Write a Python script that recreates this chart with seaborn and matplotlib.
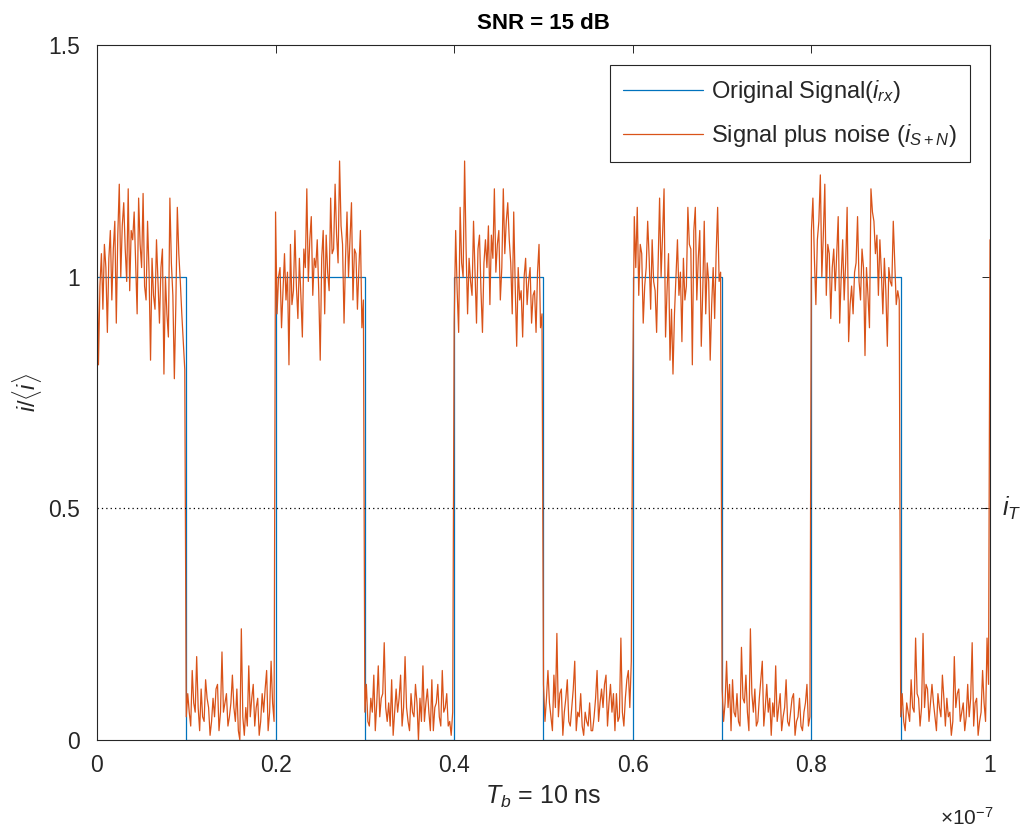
import numpy as np
import pandas as pd
import matplotlib
matplotlib.use("Agg")
import matplotlib.pyplot as plt
from matplotlib.ticker import FixedLocator, FuncFormatter
import seaborn as sns

# ---- data -------------------------------------------------------------
Tb = 10e-9                      # bit period [s]
bits = [1, 0, 1, 0, 1, 0, 1, 0, 1, 0]

# received current i/<i>, 60 samples per bit
rx_bit1 = [1.09, 0.81, 0.98, 1.05, 0.93, 1.07, 1.02, 0.88, 1.04, 1.10,
           0.95, 1.06, 1.12, 0.90, 1.09, 1.20, 1.00, 1.11, 1.16, 1.06,
           0.99, 1.19, 0.97, 1.10, 1.08, 1.14, 1.03, 0.92, 1.17, 1.07,
           1.02, 1.18, 0.98, 0.95, 1.12, 1.01, 0.82, 1.04, 0.96, 0.93,
           1.08, 0.99, 0.90, 1.02, 1.06, 0.79, 1.00, 0.92, 0.87, 1.17,
           1.03, 0.96, 0.78, 0.94, 1.15, 1.05, 0.99, 0.92, 0.86, 0.80]
rx_bit2 = [0.05, 0.10, 0.06, 0.03, 0.15, 0.08, 0.06, 0.18, 0.07, 0.02,
           0.11, 0.05, 0.04, 0.13, 0.09, 0.07, 0.01, 0.04, 0.09, 0.05,
           0.11, 0.12, 0.02, 0.06, 0.19, 0.06, 0.08, 0.10, 0.03, 0.05,
           0.08, 0.14, 0.07, 0.04, 0.11, 0.02, 0.00, 0.24, 0.05, 0.01,
           0.07, 0.03, 0.16, 0.05, 0.09, 0.12, 0.03, 0.07, 0.09, 0.01,
           0.04, 0.10, 0.06, 0.11, 0.15, 0.02, 0.06, 0.17, 0.08, 0.04]
rx_bit3 = [1.14, 0.92, 1.00, 1.02, 0.89, 0.97, 1.05, 0.95, 1.01, 0.81,
           1.07, 0.94, 0.97, 1.10, 0.98, 0.91, 1.04, 0.96, 0.87, 1.06,
           1.02, 1.19, 0.99, 1.08, 1.13, 0.96, 1.04, 1.02, 1.08, 0.97,
           0.82, 1.04, 1.10, 0.92, 1.09, 1.01, 0.97, 1.17, 1.05, 1.06,
           1.20, 1.09, 1.03, 1.25, 1.11, 1.07, 0.90, 1.04, 1.14, 1.00,
           1.08, 1.16, 0.95, 1.06, 1.05, 0.93, 1.02, 1.10, 0.89, 0.95]
rx_bit4 = [0.06, 0.12, 0.04, 0.03, 0.09, 0.06, 0.14, 0.02, 0.08, 0.16,
           0.05, 0.09, 0.10, 0.21, 0.07, 0.04, 0.08, 0.03, 0.13, 0.01,
           0.06, 0.11, 0.06, 0.09, 0.14, 0.03, 0.07, 0.18, 0.07, 0.04,
           0.02, 0.10, 0.06, 0.05, 0.12, 0.08, 0.00, 0.09, 0.04, 0.16,
           0.04, 0.08, 0.11, 0.06, 0.02, 0.13, 0.02, 0.07, 0.08, 0.12,
           0.05, 0.03, 0.15, 0.06, 0.07, 0.10, 0.03, 0.04, 0.01, 0.06]
rx_bit5 = [0.90, 1.10, 0.97, 0.88, 1.15, 1.03, 1.00, 1.25, 1.06, 0.92,
           1.04, 0.99, 0.96, 1.12, 1.01, 0.90, 1.06, 1.09, 0.97, 0.88,
           1.03, 1.08, 1.02, 1.11, 0.94, 1.09, 1.04, 1.19, 1.01, 1.07,
           1.10, 0.95, 1.02, 1.19, 1.05, 1.12, 1.16, 1.08, 1.03, 0.92,
           1.14, 0.98, 0.85, 1.02, 0.95, 0.97, 0.87, 1.00, 1.04, 0.94,
           0.99, 1.02, 0.90, 0.96, 0.97, 0.88, 1.01, 1.07, 0.89, 0.92]
rx_bit6 = [0.12, 0.04, 0.09, 0.15, 0.08, 0.05, 0.02, 0.14, 0.07, 0.23,
           0.05, 0.10, 0.11, 0.01, 0.06, 0.09, 0.13, 0.04, 0.03, 0.07,
           0.11, 0.17, 0.02, 0.06, 0.05, 0.10, 0.03, 0.01, 0.06, 0.04,
           0.03, 0.08, 0.02, 0.02, 0.05, 0.09, 0.15, 0.04, 0.08, 0.11,
           0.07, 0.12, 0.14, 0.03, 0.08, 0.12, 0.06, 0.10, 0.02, 0.10,
           0.04, 0.05, 0.22, 0.06, 0.03, 0.09, 0.13, 0.15, 0.07, 0.17]
rx_bit7 = [0.78, 1.13, 1.02, 1.15, 0.96, 1.07, 1.05, 0.90, 0.98, 1.02,
           1.12, 1.04, 0.93, 1.08, 0.99, 0.97, 0.88, 1.03, 1.17, 1.00,
           1.09, 1.19, 0.87, 0.97, 1.05, 0.82, 0.93, 0.79, 0.92, 1.00,
           1.08, 0.96, 1.01, 0.86, 1.04, 0.95, 0.98, 1.15, 1.07, 1.06,
           0.81, 1.10, 1.15, 0.95, 1.04, 1.10, 0.85, 0.97, 1.12, 0.92,
           1.03, 0.99, 0.82, 0.94, 1.02, 0.91, 1.05, 1.15, 0.99, 1.01]
rx_bit8 = [0.11, 0.04, 0.08, 0.17, 0.07, 0.12, 0.02, 0.13, 0.06, 0.05,
           0.10, 0.04, 0.03, 0.20, 0.09, 0.08, 0.14, 0.06, 0.02, 0.24,
           0.10, 0.06, 0.11, 0.03, 0.04, 0.09, 0.13, 0.17, 0.03, 0.07,
           0.12, 0.06, 0.09, 0.01, 0.08, 0.05, 0.16, 0.04, 0.07, 0.10,
           0.02, 0.05, 0.07, 0.13, 0.04, 0.03, 0.06, 0.09, 0.10, 0.01,
           0.04, 0.05, 0.09, 0.03, 0.02, 0.06, 0.08, 0.12, 0.03, 0.05]
rx_bit9 = [1.10, 1.17, 1.04, 0.94, 1.08, 1.12, 1.22, 1.00, 1.09, 1.20,
           0.96, 1.07, 1.05, 0.91, 1.02, 1.06, 0.97, 1.05, 1.13, 0.90,
           1.00, 1.08, 0.95, 1.03, 1.15, 0.86, 0.94, 0.98, 0.92, 1.01,
           1.03, 1.13, 0.99, 0.95, 1.06, 1.02, 0.83, 1.02, 0.96, 0.89,
           1.19, 1.14, 1.12, 1.05, 1.09, 0.96, 1.08, 1.01, 0.92, 1.04,
           0.97, 0.85, 1.02, 0.99, 0.98, 1.12, 1.03, 0.94, 0.97, 0.95]
rx_bit10 = [0.05, 0.10, 0.04, 0.02, 0.08, 0.06, 0.04, 0.13, 0.07, 0.06,
            0.22, 0.10, 0.09, 0.03, 0.07, 0.23, 0.07, 0.12, 0.11, 0.04,
            0.08, 0.12, 0.08, 0.05, 0.02, 0.10, 0.07, 0.05, 0.14, 0.09,
            0.03, 0.09, 0.05, 0.06, 0.01, 0.04, 0.18, 0.07, 0.10, 0.11,
            0.04, 0.06, 0.08, 0.02, 0.05, 0.12, 0.05, 0.09, 0.21, 0.03,
            0.08, 0.09, 0.01, 0.04, 0.06, 0.15, 0.08, 0.04, 0.22, 0.12]
rx_next = 1.08                  # first sample of the following bit

x_ticks = [0, 0.2e-7, 0.4e-7, 0.6e-7, 0.8e-7, 1.0e-7]
y_ticks = [0, 0.5, 1, 1.5]
y_tick_labels = ["0", "0.5", "1", "1.5"]
i_threshold = 0.5

# ---- assemble series --------------------------------------------------
rx_bits = [rx_bit1, rx_bit2, rx_bit3, rx_bit4, rx_bit5,
           rx_bit6, rx_bit7, rx_bit8, rx_bit9, rx_bit10]
t_parts, v_parts = [], []
for k, samples in enumerate(rx_bits):
    n = len(samples)
    t_parts.append((k + np.arange(n) / n) * Tb)
    v_parts.append(np.asarray(samples, dtype=float))
t_parts.append(np.array([len(rx_bits) * Tb]))
v_parts.append(np.array([rx_next]))
df_noisy = pd.DataFrame({"t": np.concatenate(t_parts),
                         "i": np.concatenate(v_parts)})

t_bits = np.arange(len(bits) + 1) * Tb
df_bits = pd.DataFrame({"t": t_bits, "i": bits + [bits[-1]]})

# ---- style -----------------------------------------------------------
sns.set_theme(style="white")
plt.rcParams["font.family"] = ["Liberation Sans", "DejaVu Sans"]
plt.rcParams["mathtext.fontset"] = "custom"
plt.rcParams["mathtext.rm"] = "Liberation Sans"
plt.rcParams["mathtext.it"] = "Liberation Sans:italic"
plt.rcParams["mathtext.bf"] = "Liberation Sans:bold"

BLUE = "#0072BD"
ORANGE = "#D95319"
EDGE = "#262626"

fig = plt.figure(figsize=(10.27, 8.38), dpi=100)
ax = fig.add_axes([0.0944, 0.117, 0.8696, 0.829])

sns.lineplot(data=df_bits, x="t", y="i", ax=ax, color=BLUE, lw=0.9,
             drawstyle="steps-post", estimator=None, sort=False,
             label=r"Original Signal($i_{rx}$)")
sns.lineplot(data=df_noisy, x="t", y="i", ax=ax, color=ORANGE, lw=0.9,
             estimator=None, sort=False,
             label=r"Signal plus noise ($i_{S+N}$)")
ax.axhline(i_threshold, color="black", lw=0.9, linestyle=(0, (1, 2.5)))

# ---- axes -------------------------------------------------------------
ax.set_xlim(0, 1e-7)
ax.set_ylim(0, 1.5)
ax.xaxis.set_major_locator(FixedLocator(x_ticks))
ax.xaxis.set_major_formatter(FuncFormatter(lambda v, _: f"{v / 1e-7:g}"))
ax.set_yticks(y_ticks)
ax.set_yticklabels(y_tick_labels)
ax.tick_params(direction="in", top=True, right=True, length=6, width=0.7,
               colors=EDGE, labelsize=16.5)
ax.tick_params(axis="x", pad=10)
ax.tick_params(axis="y", pad=12)
for sp in ax.spines.values():
    sp.set_visible(True)
    sp.set_color(EDGE)
    sp.set_linewidth(0.8)

ax.set_xlabel(r"$T_b$ = 10 ns", fontsize=18, color=EDGE, labelpad=5)
ax.set_ylabel(r"$i/\langle i\rangle$", fontsize=17, color=EDGE, labelpad=3)
ax.set_title("SNR = 15 dB", fontsize=16, fontweight="bold", color="black", pad=12)

ax.text(1.004, -0.112, r"$\times10^{-7}$", transform=ax.transAxes,
        ha="right", va="center", fontsize=15, color=EDGE)
ax.text(1.013, i_threshold, r"$i_T$", transform=ax.get_yaxis_transform(),
        ha="left", va="center", fontsize=18, color=EDGE)

leg = ax.legend(loc="upper right", fontsize=17, handlelength=3.4,
                frameon=True, fancybox=False, framealpha=1,
                edgecolor=EDGE, borderaxespad=0.85, borderpad=0.55,
                labelspacing=0.7, handletextpad=0.35)
leg.get_frame().set_linewidth(0.8)

fig.savefig("out.png", dpi=100)
